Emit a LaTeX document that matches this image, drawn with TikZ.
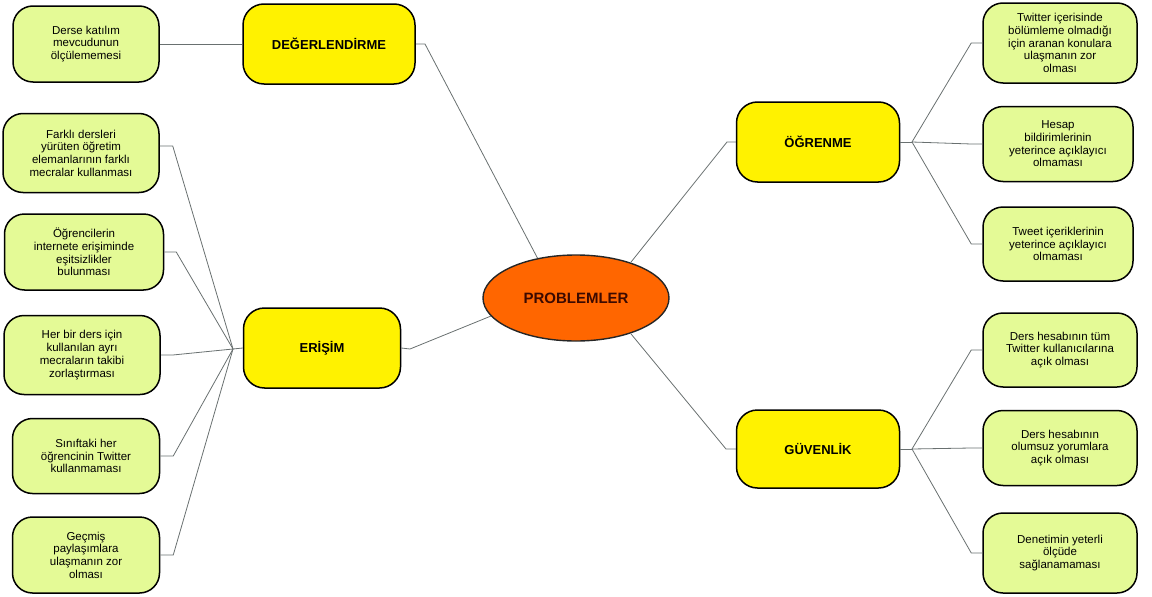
\documentclass[tikz,border=0pt]{standalone}
\usepackage{fontspec}
\setmainfont{Liberation Sans}
\usetikzlibrary{shapes, positioning, calc}
\definecolor{rootOrange}{RGB}{255,102,0}
\definecolor{rootText}{RGB}{60,10,0}
\definecolor{leafGreen}{RGB}{228,250,150}
\definecolor{linkGray}{RGB}{105,112,112}
\tikzset{
    rootO/.style={ellipse, draw=black!85, line width=1.4pt, fill=rootOrange,
        minimum width=186pt, minimum height=86pt, text=rootText,
        font=\bfseries\fontsize{15}{18}\selectfont},
    topicY/.style={rectangle, rounded corners=21pt, draw=black, line width=1.5pt, fill=yellow,
        minimum height=80pt, font=\bfseries\fontsize{13}{15}\selectfont},
    leafG/.style={rectangle, rounded corners=20pt, draw=black, line width=1.5pt, fill=leafGreen,
        align=center, inner sep=2pt, font=\fontsize{11.5}{12.7}\selectfont},
    linkG/.style={draw=linkGray, line width=0.8pt}
}
\begin{document}
\begin{tikzpicture}[x=1pt, y=-1pt]
    \useasboundingbox (0,0) rectangle (1152,597);
    % centre and main topics
    \node[rootO] (prob) at (576,298) {PROBLEMLER};
    \node[topicY, minimum width=172pt] (deg) at (329,44) {DEĞERLENDİRME};
    \node[topicY, minimum width=157pt] (eri) at (322,348) {ERİŞİM};
    \node[topicY, minimum width=163pt] (ogr) at (818,142) {ÖĞRENME};
    \node[topicY, minimum width=163pt, minimum height=78pt] (guv) at (818,449) {GÜVENLİK};
    % left leaves
    \node[leafG, minimum width=146pt, minimum height=76pt] (l1) at (86,44)
        {Derse katılım\\mevcudunun\\ölçülememesi};
    \node[leafG, minimum width=156pt, minimum height=79pt] (l2) at (81,153)
        {Farklı dersleri\\yürüten öğretim\\elemanlarının farklı\\mecralar kullanması};
    \node[leafG, minimum width=159pt, minimum height=76pt] (l3) at (84,252)
        {Öğrencilerin\\internete erişiminde\\eşitsizlikler\\bulunması};
    \node[leafG, minimum width=156pt, minimum height=79pt] (l4) at (82,355)
        {Her bir ders için\\kullanılan ayrı\\mecraların takibi\\zorlaştırması};
    \node[leafG, minimum width=147pt, minimum height=75pt] (l5) at (86,456)
        {Sınıftaki her\\öğrencinin Twitter\\kullanmaması};
    \node[leafG, minimum width=147pt, minimum height=76pt] (l6) at (86,555)
        {Geçmiş\\paylaşımlara\\ulaşmanın zor\\olması};
    % right leaves
    \node[leafG, minimum width=154pt, minimum height=80pt] (r1) at (1060,43)
        {Twitter içerisinde\\bölümleme olmadığı\\için aranan konulara\\ulaşmanın zor\\olması};
    \node[leafG, minimum width=150pt, minimum height=75pt] (r2) at (1058,144)
        {Hesap\\bildirimlerinin\\yeterince açıklayıcı\\olmaması};
    \node[leafG, minimum width=150pt, minimum height=74pt] (r3) at (1058,244)
        {Tweet içeriklerinin\\yeterince açıklayıcı\\olmaması};
    \node[leafG, minimum width=154pt, minimum height=74pt] (r4) at (1060,350)
        {Ders hesabının tüm\\Twitter kullanıcılarına\\açık olması};
    \node[leafG, minimum width=154pt, minimum height=75pt] (r5) at (1060,448)
        {Ders hesabının\\olumsuz yorumlara\\açık olması};
    \node[leafG, minimum width=154pt, minimum height=80pt] (r6) at (1060,553)
        {Denetimin yeterli\\ölçüde\\sağlanamaması};
    % junctions
    \coordinate (jd) at (425,44);
    \coordinate (je1) at (233,349);
    \coordinate (je2) at (410,349);
    \coordinate (jo1) at (727,142);
    \coordinate (jo2) at (912,142);
    \coordinate (jg1) at (726,449);
    \coordinate (jg2) at (912,449);
    % links
    \draw[linkG] (l1.east) -- (deg.west);
    \draw[linkG] (deg.east) -- (jd) -- (prob.134);
    \draw[linkG] (eri.east) -- (je2) -- (prob.192);
    \draw[linkG] (ogr.west) -- (jo1) -- (prob.33);
    \draw[linkG] (guv.west) -- (jg1) -- (prob.327);
    \draw[linkG] (je1) -- (eri.west);
    \draw[linkG] ([yshift=7pt]l2.east) -- ++(13,0) -- (je1);
    \draw[linkG] (l3.east) -- ++(12,0) -- (je1);
    \draw[linkG] (l4.east) -- ++(12,0) -- (je1);
    \draw[linkG] (l5.east) -- ++(13,0) -- (je1);
    \draw[linkG] (l6.east) -- ++(13,0) -- (je1);
    \draw[linkG] (ogr.east) -- (jo2);
    \draw[linkG] (r1.west) -- ++(-11,0) -- (jo2);
    \draw[linkG] (r2.west) -- ++(-11,0) -- (jo2);
    \draw[linkG] (r3.west) -- ++(-11,0) -- (jo2);
    \draw[linkG] (guv.east) -- (jg2);
    \draw[linkG] (r4.west) -- ++(-11,0) -- (jg2);
    \draw[linkG] (r5.west) -- ++(-11,0) -- (jg2);
    \draw[linkG] (r6.west) -- ++(-11,0) -- (jg2);
\end{tikzpicture}
\end{document}
